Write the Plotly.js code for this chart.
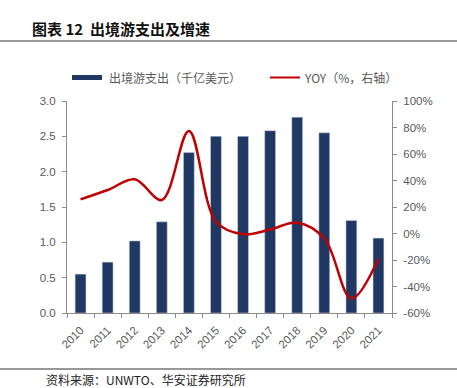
<!DOCTYPE html>
<html><head><meta charset="utf-8">
<script src="https://cdn.plot.ly/plotly-3.0.1.min.js"></script>
<style>body{margin:0;background:#fff}#c{width:457px;height:388px}</style>
</head><body><div id="c"></div>
<script>
const years = ['2010','2011','2012','2013','2014','2015','2016','2017','2018','2019','2020','2021'];
const spending = [0.55,0.72,1.02,1.29,2.27,2.50,2.50,2.58,2.77,2.55,1.31,1.06];
const yoy = [25.8,32.8,40.9,25.3,77.4,8.9,-0.5,3.0,8.2,-3.6,-49,-19];
const leftTicks = [0,0.5,1,1.5,2,2.5,3];
const rightTicks = [-60,-40,-20,0,20,40,60,80,100];

const W=457,H=388,L=67,R=392,T=101,B=313;
const px=x=>(x-L)/(R-L), py=y=>(B-y)/(B-T);
const cjk='"Noto Sans CJK SC", "Liberation Sans", sans-serif';
const lat='"Liberation Sans", Arial, sans-serif';
const grey='#595959', axc='#8c8c8c';

const traces=[
 {type:'bar',x:years,y:spending,width:0.4,marker:{color:'#203864',line:{color:'#d0d4de',width:0.5}},yaxis:'y',showlegend:false,hoverinfo:'skip'},
 {type:'scatter',mode:'lines',x:years,y:yoy,yaxis:'y2',line:{color:'#c00000',width:2.5,shape:'spline',smoothing:1},showlegend:false,hoverinfo:'skip'}
];
const layout={
 width:W,height:H,margin:{l:L,r:W-R,t:T,b:H-B,pad:0},
 paper_bgcolor:'#fff',plot_bgcolor:'#fff',showlegend:false,
 bargap:0.6,
 xaxis:{type:'category',showline:true,linecolor:axc,linewidth:1,ticks:'outside',tickson:'boundaries',ticklen:4,tickcolor:axc,ticklabelstandoff:5,
   tickangle:-45,tickfont:{family:lat,size:11.5,color:grey},showgrid:false,zeroline:false,range:[-0.5,11.5]},
 yaxis:{range:[0,3],tickvals:leftTicks,ticktext:leftTicks.map(v=>v.toFixed(1)),showline:true,linecolor:axc,linewidth:1,ticks:'outside',ticklen:4,tickcolor:axc,ticklabelstandoff:4,
   tickfont:{family:lat,size:11.5,color:grey},showgrid:false,zeroline:false},
 yaxis2:{overlaying:'y',side:'right',range:[-60,100],tickvals:rightTicks,ticktext:rightTicks.map(v=>v+'%'),showline:true,linecolor:axc,linewidth:1,ticks:'outside',ticklen:4,tickcolor:axc,ticklabelstandoff:4,
   tickfont:{family:lat,size:11.5,color:grey},showgrid:false,zeroline:false},
 shapes:[
  {type:'line',xref:'paper',yref:'paper',x0:px(0),x1:px(457),y0:py(41),y1:py(41),line:{color:'#333',width:1.2}},
  {type:'line',xref:'paper',yref:'paper',x0:px(0),x1:px(457),y0:py(369),y1:py(369),line:{color:'#333',width:1.2}},
  {type:'rect',xref:'paper',yref:'paper',x0:px(72),x1:px(102),y0:py(75),y1:py(80),fillcolor:'#203864',line:{width:0}},
  {type:'line',xref:'paper',yref:'paper',x0:px(270),x1:px(300),y0:py(77.5),y1:py(77.5),line:{color:'#c00000',width:2}}
 ],
 annotations:[
  {xref:'paper',yref:'paper',x:px(30),y:py(28),xanchor:'left',yanchor:'middle',showarrow:false,
   text:'<b>图表 12  出境游支出及增速</b>',font:{family:cjk,size:15,color:'#111'}},
  {xref:'paper',yref:'paper',x:px(107),y:py(77.5),xanchor:'left',yanchor:'middle',showarrow:false,
   text:'出境游支出（千亿美元）',font:{family:cjk,size:12,color:grey}},
  {xref:'paper',yref:'paper',x:px(302),y:py(77.5),xanchor:'left',yanchor:'middle',showarrow:false,
   text:'YOY（%，右轴）',font:{family:cjk,size:12,color:grey}},
  {xref:'paper',yref:'paper',x:px(44),y:py(379),xanchor:'left',yanchor:'middle',showarrow:false,
   text:'资料来源：UNWTO、华安证券研究所',font:{family:cjk,size:12,color:'#222'}}
 ]
};
Plotly.newPlot('c',traces,layout,{staticPlot:true,displayModeBar:false});
</script></body></html>
